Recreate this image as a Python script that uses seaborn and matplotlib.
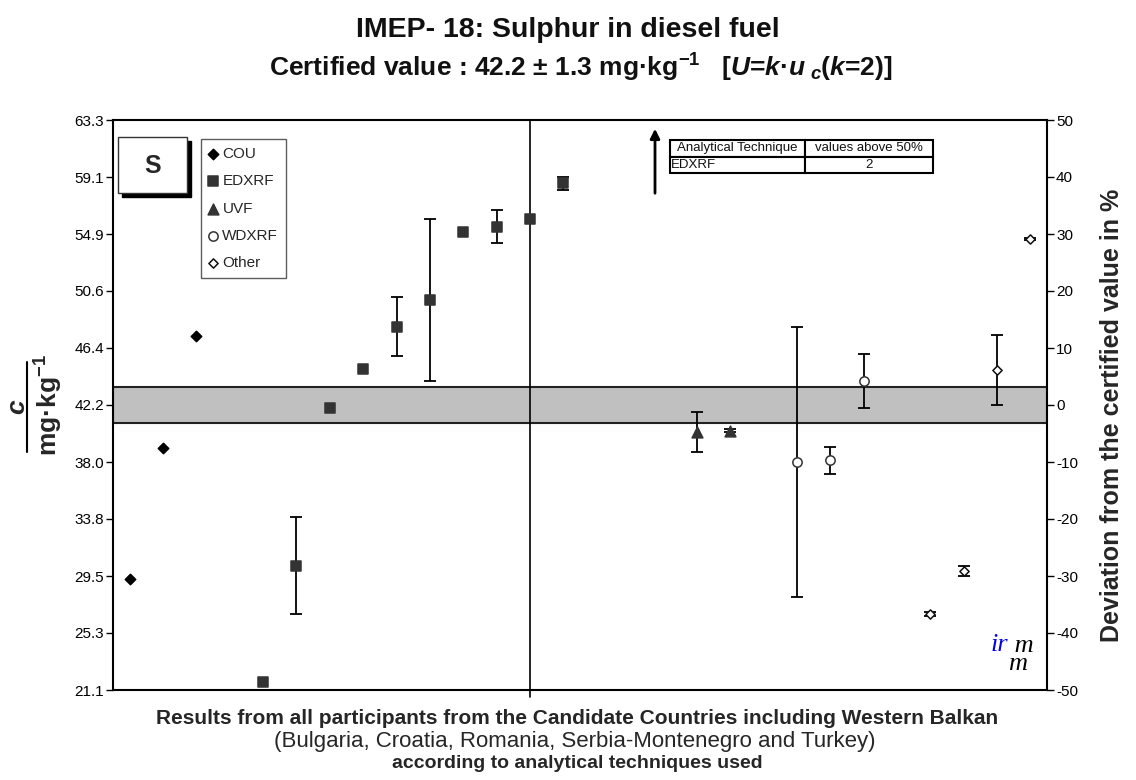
import matplotlib
matplotlib.use("Agg")
import matplotlib.pyplot as plt
from matplotlib.patches import Rectangle
from matplotlib.lines import Line2D
import numpy as np
import seaborn as sns

sns.set_theme(style="white")
plt.rcParams['font.family'] = ['Liberation Sans', 'DejaVu Sans']
plt.rcParams['mathtext.fontset'] = 'custom'
plt.rcParams['mathtext.rm'] = 'Liberation Sans:bold'
plt.rcParams['mathtext.it'] = 'Liberation Sans:bold:italic'
plt.rcParams['mathtext.bf'] = 'Liberation Sans:bold'

# certified value and expanded uncertainty (mg/kg)
cert = 42.2
cert_U = 1.3

# results per technique: slot on the x axis, value, expanded uncertainty
cou_x = [0, 1, 2]
cou_y = [29.3, 39.0, 47.3]
cou_u = [0, 0, 0]

edx_x = [4, 5, 6, 7, 8, 9, 10, 11, 12, 13]
edx_y = [21.7, 30.3, 42.0, 44.9, 48.0, 50.0, 55.0, 55.4, 56.0, 58.6]
edx_u = [0, 3.6, 0, 0, 2.2, 6.0, 0, 1.2, 0, 0.5]

uvf_x = [17, 18]
uvf_y = [40.2, 40.3]
uvf_u = [1.5, 0.1]

wdx_x = [20, 21, 22]
wdx_y = [38.0, 38.1, 44.0]
wdx_u = [10.0, 1.0, 2.0]

oth_x = [24, 25, 26, 27]
oth_y = [26.7, 29.9, 44.8, 54.5]
oth_u = [0.15, 0.35, 2.6, 0.05]

n_slots = 28
median_slot = 12

pct_ticks = list(range(-50, 51, 10))
table_cols = ["Analytical Technique", "values above 50%"]
table_rows = [["EDXRF", "2"]]

W, H = 1136, 780
def fp(x, y):
    # figure pixel (from top-left) -> figure fraction
    return x / W, 1 - y / H

fig = plt.figure(figsize=(W / 100, H / 100), dpi=100)
ax = fig.add_axes([113 / W, 1 - 690 / H, 934 / W, 570 / H])

ax.axhspan(cert - cert_U, cert + cert_U, facecolor="#c0c0c0", edgecolor="#222222", lw=1.5, zorder=1)
ax.axvline(median_slot, ymin=-0.012, ymax=1, color="black", lw=1.2, zorder=2, clip_on=False)

groups = [
    ("COU", cou_x, cou_y, cou_u, "D", 28, "black", "black"),
    ("EDXRF", edx_x, edx_y, edx_u, "s", 55, "#333333", "#333333"),
    ("UVF", uvf_x, uvf_y, uvf_u, "^", 60, "#333333", "#333333"),
    ("WDXRF", wdx_x, wdx_y, wdx_u, "o", 45, "white", "#333333"),
    ("Other", oth_x, oth_y, oth_u, "D", 22, "white", "#111111"),
]

for name, xs, ys, us, mk, sz, fc, ec in groups:
    xs = np.array(xs); ys = np.array(ys); us = np.array(us)
    m = us > 0
    if m.any():
        ax.errorbar(xs[m], ys[m], yerr=us[m], fmt="none", ecolor="black",
                    elinewidth=1.3, capsize=4, capthick=1.3, zorder=3)
    sns.scatterplot(x=xs, y=ys, marker=mk, s=sz, color=fc, edgecolor=ec,
                    linewidth=1.1, label=name, ax=ax, zorder=4)

ax.set_xlim(-0.5, n_slots - 0.5)
ax.set_ylim(cert * 0.5, cert * 1.5)
ax.set_yticks([cert * (1 + p / 100) for p in pct_ticks])
ax.set_yticklabels([f"{cert * (1 + p / 100):.1f}" for p in pct_ticks])
ax.set_xticks([])
ax.tick_params(axis="y", direction="out", length=5, width=1, color="black",
               labelsize=11, labelcolor="black", pad=1.5, left=True)
for s in ax.spines.values():
    s.set_color("black")
    s.set_linewidth(1.5)

ax2 = ax.twinx()
ax2.set_ylim(-50, 50)
ax2.set_yticks(pct_ticks)
ax2.set_yticklabels([str(p) for p in pct_ticks])
ax2.tick_params(axis="y", direction="out", length=5, width=1, color="black",
                labelsize=11, labelcolor="black", pad=1.5, right=True)
ax2.grid(False)
ax.grid(False)
for s in ax2.spines.values():
    s.set_visible(False)

leg = ax.legend(loc="upper left", bbox_to_anchor=((201 - 113) / 934, 1 - (139 - 120) / 570),
                fontsize=11, frameon=True, fancybox=False, edgecolor="#333333",
                handlelength=0.6, handletextpad=0.3, labelspacing=0.88,
                borderpad=0.5, borderaxespad=0)
leg.get_frame().set_linewidth(1.0)

# "S" box with shadow
sx0, sy0 = fp(118, 193)
sx1, sy1 = fp(187, 137)
fig.patches.append(Rectangle((sx0 + 4 / W, sy0 - 4 / H), sx1 - sx0, sy1 - sy0,
                             transform=fig.transFigure, facecolor="black", edgecolor="black", zorder=5))
fig.patches.append(Rectangle((sx0, sy0), sx1 - sx0, sy1 - sy0, transform=fig.transFigure,
                             facecolor="white", edgecolor="#333333", lw=1.0, zorder=6))
fig.text(*fp(152.5, 166), "S", ha="center", va="center", fontsize=18, fontweight="bold", zorder=7)

# table of values above 50 %
tx0, ty0 = (670 - 113) / 934, 1 - (173 - 120) / 570
tbl = ax.table(cellText=table_rows, colLabels=table_cols, cellLoc="center",
               colWidths=[0.513, 0.487],
               bbox=[tx0, ty0, (933 - 670) / 934, (173 - 140) / 570], zorder=6)
tbl.auto_set_font_size(False)
tbl.set_fontsize(9.5)
for (r, c), cell in tbl.get_celld().items():
    cell.set_linewidth(1.5)
    cell.set_edgecolor("black")
    cell.get_text().set_color("#111111")
    if r == 1 and c == 0:
        cell.get_text().set_ha("left")
        cell.PAD = 0.01

ax.annotate("", xy=fp(655, 126), xytext=fp(655, 196), xycoords="figure fraction",
            textcoords="figure fraction",
            arrowprops=dict(arrowstyle="-|>", lw=2, color="black", mutation_scale=14))

# irmm logo
fig.text(*fp(999, 645), "ir", color="#0000ee", fontsize=19, style="italic",
         family="Liberation Serif", ha="center", va="center")
fig.text(*fp(1008, 655), " m\nm", color="black", fontsize=19, style="italic",
         family="Liberation Serif", ha="left", va="center", linespacing=0.8)

# titles
fig.text(*fp(568, 30), "IMEP- 18: Sulphur in diesel fuel", ha="center", va="center",
         fontsize=20.5, fontweight="bold", color="#111111")
fig.text(*fp(581, 68), r"Certified value : " + f"{cert} ± {cert_U}" + r" mg·kg$^{-1}$   [$U$=$k$·$u_{\ c}$($k$=2)]",
         ha="center", va="center", fontsize=19, fontweight="bold", color="#111111")

# left axis label as fraction
fig.text(*fp(17, 407), "c", rotation=90, ha="center", va="center", fontsize=19,
         fontweight="bold", style="italic")
fig.add_artist(Line2D([27 / W, 27 / W], [1 - 452 / H, 1 - 362 / H], color="black", lw=1.5))
fig.text(*fp(49, 405), r"mg·kg$^{-1}$", rotation=90, ha="center", va="center", fontsize=19,
         fontweight="bold")

fig.text(*fp(1112, 415), "Deviation from the certified value in %", rotation=90,
         ha="center", va="center", fontsize=18, fontweight="bold")

# bottom text
fig.text(*fp(577, 718), "Results from all participants from the Candidate Countries including Western Balkan",
         ha="center", va="center", fontsize=15, fontweight="bold")
fig.text(*fp(575, 741), "(Bulgaria, Croatia, Romania, Serbia-Montenegro and Turkey)",
         ha="center", va="center", fontsize=16)
fig.text(*fp(577, 764), "according to analytical techniques used",
         ha="center", va="center", fontsize=14, fontweight="bold")

fig.savefig("out.png", dpi=100, facecolor="white")
